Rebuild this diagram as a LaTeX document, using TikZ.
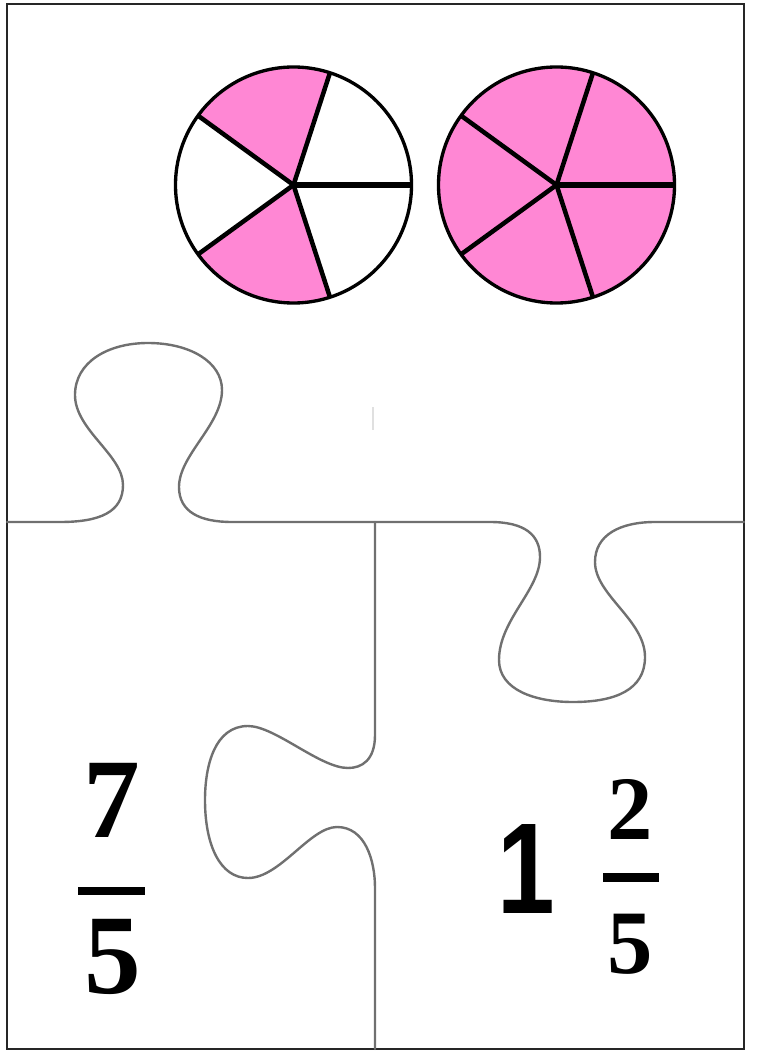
\documentclass[tikz,border=0pt]{standalone}
\usepackage{graphicx}
\usepackage{fontspec}
\setmainfont{Liberation Serif}
\newfontfamily\onefont{Liberation Sans}
\usetikzlibrary{calc}
\definecolor{piepink}{RGB}{255,135,212}
\definecolor{cutgray}{RGB}{112,112,112}
\tikzstyle{frame} = [draw=black!85, line width=1.6pt]
\tikzstyle{cut} = [draw=cutgray, line width=1.8pt, line cap=round, line join=round]
\tikzstyle{rim} = [draw=black, line width=2.5pt]
\tikzstyle{spoke} = [draw=black, line width=3.4pt]
\tikzstyle{bigdigit} = [inner sep=0pt, font=\fontsize{85}{85}\selectfont\bfseries]
\tikzstyle{smalldigit} = [inner sep=0pt, font=\fontsize{68}{68}\selectfont\bfseries]
\tikzstyle{wholedigit} = [inner sep=0pt, font=\fontsize{97}{97}\selectfont\onefont\bfseries]

\begin{document}
\begin{tikzpicture}[x=0.75pt,y=-0.75pt]
  \useasboundingbox (0,0) rectangle (756,1055);
  \draw[frame] (7,4) rectangle (744,1049);

  % the two pies, fifths
  \coordinate (pieA) at (293.5,185);
  \coordinate (pieB) at (556.5,185);
  \fill[white] (pieA) circle[radius=118];
  \fill[piepink] (pieA) -- ++(72:118) arc (72:144:118) -- cycle;
  \fill[piepink] (pieA) -- ++(216:118) arc (216:288:118) -- cycle;
  \fill[piepink] (pieB) circle[radius=118];
  \foreach \p in {pieA,pieB} {
    \foreach \a in {72,144,216,288}
      \draw[spoke] (\p) -- ++(\a:117);
    \draw[spoke, line width=4.8pt] (\p) -- ++(0:117);
    \draw[rim] (\p) circle[radius=118];
  }

  % puzzle cuts
  \draw[cut] (7,522) -- (60,522)
    .. controls (100,522) and (123,512) .. (123,485)
    .. controls (123,455) and (75,430) .. (75,395)
    .. controls (75,362) and (108,343) .. (148,343)
    .. controls (190,343) and (222,362) .. (222,390)
    .. controls (222,425) and (179,455) .. (179,487)
    .. controls (179,512) and (200,522) .. (232,522) -- (490,522)
    .. controls (525,522) and (540,535) .. (540,557)
    .. controls (540,590) and (499,620) .. (499,660)
    .. controls (499,690) and (535,702) .. (573,702)
    .. controls (615,702) and (645,690) .. (645,657)
    .. controls (645,620) and (595,595) .. (595,562)
    .. controls (595,535) and (620,522) .. (655,522) -- (744,522);
  \draw[cut] (375,522) -- (375,735)
    .. controls (375,760) and (362,768) .. (348,768)
    .. controls (320,768) and (275,726) .. (248,726)
    .. controls (215,726) and (205,765) .. (205,800)
    .. controls (205,845) and (220,878) .. (248,878)
    .. controls (280,878) and (310,827) .. (337,827)
    .. controls (365,827) and (375,860) .. (375,888) -- (375,1049);
  \draw[black!12, line width=0.8pt] (373,407) -- (373,430);

  % fractions
  \node[bigdigit] (numA) at (112,800) {7};
  \fill[black] (78,887) rectangle (145,895);
  \node[bigdigit] (denA) at (112.5,957) {5};
  \node[wholedigit] (whole) at (526.5,868.5) {\scalebox{0.8}[1]{1}};
  \node[smalldigit] (numB) at (630,809) {2};
  \fill[black] (603,873) rectangle (659,882);
  \node[smalldigit] (denB) at (630,944) {5};
\end{tikzpicture}
\end{document}
